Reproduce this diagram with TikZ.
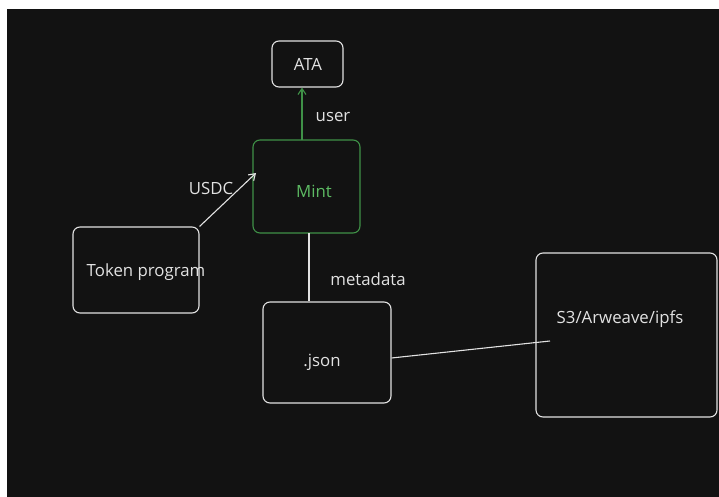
\documentclass[tikz,border=0pt]{standalone}
\usepackage{fontspec}
\setmainfont{Open Sans}
\usetikzlibrary{arrows.meta,calc}
\definecolor{board}{HTML}{121212}
\definecolor{chalk}{HTML}{E2E2E2}
\definecolor{leaf}{HTML}{5DBB63}
\definecolor{leafline}{HTML}{3F9147}
\begin{document}
\begin{tikzpicture}[x=1pt,y=-1pt,
  box/.style={draw=chalk,line width=1.1pt,rounded corners=7pt,inner sep=0pt},
  lbl/.style={text=chalk,font=\fontsize{16.8}{19}\selectfont,inner sep=0pt},
  wire/.style={draw=chalk,line width=1.1pt},
  tip/.style={-{Straight Barb[length=6pt,width=8pt]}}]
  % canvas
  \fill[white] (0,0) rectangle (719,497);
  \fill[board] (7,9) rectangle (719,497);
  \useasboundingbox (0,0) rectangle (719,497);

  % boxes
  \node[box,minimum width=71pt,minimum height=46pt] (ata) at (307.5,64) {};
  \node[box,draw=leafline,minimum width=107pt,minimum height=93pt] (mint) at (306.5,186.5) {};
  \node[box,minimum width=126pt,minimum height=86pt] (tok) at (136,270) {};
  \node[box,minimum width=128pt,minimum height=101pt] (json) at (327,352.5) {};
  \node[box,minimum width=181pt,minimum height=164pt] (store) at (626.5,335) {};

  % box texts
  \node[lbl] (ataT) at (308,64) {ATA};
  \node[lbl,text=leaf] (mintT) at (314,191) {Mint};
  \node[lbl] (tokT) at (146,272) {Token program};
  \node[lbl] (jsonT) at (322,362) {.json};
  \node[lbl] (storeT) at (620,319) {S3/Arweave/ipfs};

  % connector ends
  \coordinate (mintIn) at (256,173);
  \coordinate (mintUp) at (302,140);
  \coordinate (mintDown) at (309,233);
  \coordinate (storeIn) at (550,341);

  % connectors
  \draw[wire,draw=leafline,tip] (mintUp) -- (mintUp |- ata.south);
  \draw[wire,tip] (tok.north east) -- (mintIn);
  \draw[wire] (mintDown) -- (mintDown |- json.north);
  \draw[wire] (json.east |- 0,358) -- (storeIn);

  % connector labels
  \node[lbl] (userT) at (333,117) {user};
  \node[lbl] (usdcT) at (211,188) {USDC};
  \node[lbl] (metaT) at (368,279) {metadata};
\end{tikzpicture}
\end{document}
